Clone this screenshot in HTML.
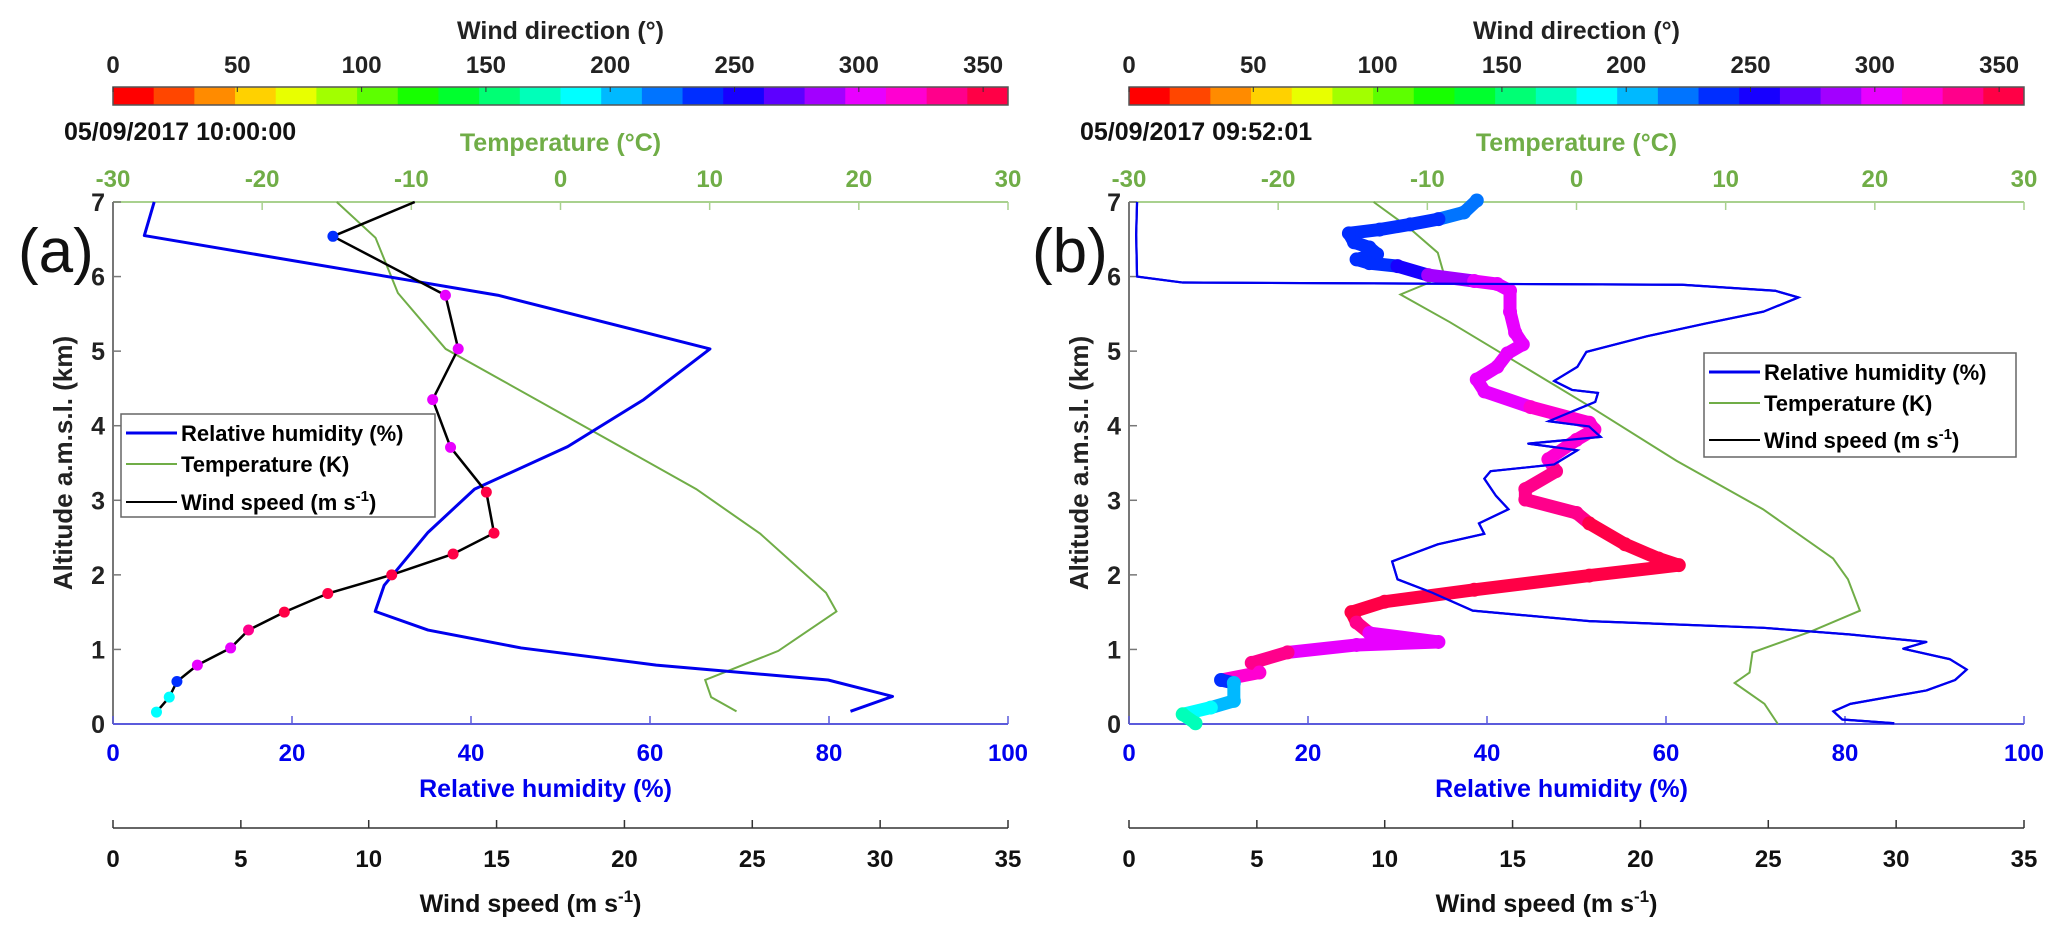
<!DOCTYPE html>
<html><head><meta charset="utf-8"><style>
html,body{margin:0;padding:0;background:#fff;}
svg{display:block;font-family:"Liberation Sans",Arial,sans-serif;font-weight:bold;}
</style></head><body>
<svg id="chart" width="2067" height="938" viewBox="0 0 2067 938" xmlns="http://www.w3.org/2000/svg"></svg>
<script>
// ---------- Data: panel (a) ----------
const rhA = [4.6,3.5,43,66.7,59.3,50.8,40.4,35.2,30.3,29.3,35.2,45.6,60.7,79.9,87.1,82.4];
const rhAltA = [7.0,6.55,5.75,5.03,4.35,3.72,3.15,2.57,1.86,1.51,1.26,1.02,0.79,0.59,0.37,0.17];
const tA = [-15,-12.4,-10.9,-7.7,1.7,9.1,13.4,17.8,18.5,14.6,9.7,10.1,11.8];
const tAltA = [7.0,6.52,5.78,5.03,3.98,3.15,2.55,1.76,1.51,0.98,0.59,0.36,0.17];
const wsA = [11.8,8.6,13.0,13.5,12.5,13.2,14.6,14.9,13.3,10.9,8.4,6.7,5.3,4.6,3.3,2.5,2.2,1.7];
const wsAltA = [7.0,6.54,5.75,5.03,4.35,3.71,3.11,2.56,2.28,2.0,1.75,1.5,1.26,1.02,0.79,0.57,0.36,0.16];
const wdA = [null,240,300,300,300,300,345,345,345,345,345,345,340,310,305,240,195,195];
// ---------- Data: panel (b) ----------
const rhB = [0.9,0.8,0.9,6,61.8,72.2,74.8,70.9,64.4,57.9,52.7,51.1,50.1,47.5,49.5,52.4,52.1,46.9,51.4,52.7,44.6,50.1,47.5,40.4,39.7,41,41.7,42.4,39.1,39.7,34.5,29.4,30,33.9,38.4,51.4,70.9,80.6,89.1,86.5,91.7,93.6,92.3,89.1,80.6,78.7,79.7,85.5];
const rhAltB = [7.0,6.56,6.0,5.92,5.89,5.81,5.72,5.53,5.37,5.2,5.04,4.99,4.79,4.6,4.48,4.44,4.32,4.06,3.99,3.85,3.76,3.67,3.48,3.39,3.29,3.06,2.97,2.88,2.69,2.55,2.41,2.18,1.94,1.76,1.52,1.38,1.29,1.2,1.1,1.01,0.87,0.73,0.59,0.45,0.27,0.17,0.06,0.01];
const tB = [-13.6,-11.2,-9.3,-8.9,-10.1,-11.8,-8.5,-3.1,0.8,6.7,12.5,17.2,18.2,19,15.7,11.8,11.6,10.6,12.6,13.5];
const tAltB = [7.0,6.65,6.32,6.04,5.9,5.76,5.39,4.74,4.27,3.53,2.88,2.22,1.94,1.52,1.24,0.96,0.69,0.55,0.27,0];
const wsB = [13.6,13.1,12.1,11,9.8,8.6,8.8,9.4,9.7,8.9,9.4,10.5,11.7,13.5,14.4,14.9,14.9,15.1,15.4,14.8,14.4,13.6,13.9,15.7,18,18.2,17.5,16.4,16.7,15.5,15.5,17.5,18,19.4,20.7,21.5,18,13.5,10,8.7,8.9,9.4,12.1,8.9,6.2,4.8,5.1,3.6,4.1,4.1,3.2,2.1,2.6];
const wsAltB = [7.02,6.86,6.77,6.7,6.63,6.58,6.46,6.39,6.3,6.23,6.18,6.14,6.02,5.94,5.9,5.81,5.53,5.25,5.09,4.97,4.79,4.62,4.46,4.25,4.04,3.95,3.81,3.55,3.39,3.15,3.01,2.83,2.69,2.41,2.22,2.13,1.99,1.8,1.64,1.5,1.36,1.22,1.1,1.06,0.96,0.82,0.69,0.59,0.55,0.31,0.22,0.13,0.01];
const wdB = [220,225,235,240,240,240,240,240,240,240,240,260,280,300,300,300,300,300,300,305,305,305,310,315,320,320,320,325,330,335,340,340,345,345,350,355,350,350,350,355,340,300,300,300,330,340,320,240,200,200,185,175,170];
// ---------- Tick labels ----------
const dirTicks = [0,50,100,150,200,250,300,350];
const tempTicks = [-30,-20,-10,0,10,20,30];
const rhTicks = [0,20,40,60,80,100];
const wsTicks = [0,5,10,15,20,25,30,35];
const altTicks = [0,1,2,3,4,5,6,7];
const dates = ["05/09/2017 10:00:00","05/09/2017 09:52:01"];
const panelLetters = ["(a)","(b)"];

const NS = "http://www.w3.org/2000/svg";
const svg = document.getElementById("chart");
function mk(tag, attrs, parent, text){
  const e = document.createElementNS(NS, tag);
  for (const k in attrs) e.setAttribute(k, attrs[k]);
  if (text !== undefined) e.textContent = text;
  (parent || svg).appendChild(e);
  return e;
}
const NBIN = 22;
function dirColor(d){
  let b = Math.floor(d/360*NBIN); if (b >= NBIN) b = NBIN-1; if (b < 0) b = 0;
  return "hsl(" + (b*360/NBIN) + ",100%,50%)";
}
const W = 895, TOP = 202, BOT = 724;
const yS = km => BOT - km*(BOT-TOP)/7;
const BLUE = "#0000ee", GREEN = "#70ad47";

function panel(p){
  const x0 = p===0 ? 113 : 1129;
  const xRH = v => x0 + v/100*W;
  const xT = v => x0 + (v+30)/60*W;
  const xWS = v => x0 + v/35*W;
  const xD = v => x0 + v/360*W;
  const g = mk("g", {});
  
  

  const cb = mk("g", {}, g);
  
  
  for (let i=0;i<NBIN;i++){
    mk("rect",{x:xD(i*360/NBIN),y:87,width:W/NBIN+0.5,height:18,fill:"hsl("+(i*360/NBIN)+",100%,50%)"},cb);
  }
  mk("rect",{x:x0,y:87,width:W,height:18,fill:"none",stroke:"#555","stroke-width":1.5},cb);
  dirTicks.forEach(d=>{
    mk("line",{x1:xD(d),x2:xD(d),y1:87,y2:92,stroke:"#333","stroke-width":1},cb);
    const t = mk("text",{x:xD(d),y:73,"text-anchor":"middle","font-size":24,fill:"#222"},cb,String(d));
    
    
  });
  const ct = mk("text",{x:x0+W/2,y:39,"text-anchor":"middle","font-size":25,fill:"#222"},cb,"Wind direction (°)");
  
  

  const dt = mk("text",{x:p===0?64:1080,y:140,"font-size":25,fill:"#111"},g,dates[p]);
  
  

  const pl = mk("text",{x:p===0?18:1032,y:272,"font-size":62,"font-weight":"normal",fill:"#111"},g,panelLetters[p]);
  
  

  const tt = mk("text",{x:x0+W/2,y:151,"text-anchor":"middle","font-size":25,fill:GREEN},g,"Temperature (°C)");
  
  
  mk("line",{x1:x0,x2:x0+W,y1:TOP,y2:TOP,stroke:"#a9d18e","stroke-width":2},g);
  tempTicks.forEach(v=>{
    mk("line",{x1:xT(v),x2:xT(v),y1:TOP,y2:TOP+8,stroke:"#a9d18e","stroke-width":1.5},g);
    const t = mk("text",{x:xT(v),y:187,"text-anchor":"middle","font-size":24,fill:GREEN},g,String(v));
    
    
  });

  mk("line",{x1:x0,x2:x0,y1:TOP,y2:BOT,stroke:"#777","stroke-width":2},g);
  altTicks.forEach(v=>{
    mk("line",{x1:x0,x2:x0+8,y1:yS(v),y2:yS(v),stroke:"#777","stroke-width":1.5},g);
    const t = mk("text",{x:x0-8,y:yS(v)+9,"text-anchor":"end","font-size":25,fill:"#222"},g,String(v));
    
    
  });
  const yt = mk("text",{x:0,y:0,"text-anchor":"middle","font-size":26,fill:"#222",transform:"translate("+(x0-41)+","+((TOP+BOT)/2)+") rotate(-90)"},g,"Altitude a.m.s.l. (km)");
  
  

  mk("line",{x1:x0,x2:x0+W,y1:BOT,y2:BOT,stroke:"#5b5bdc","stroke-width":2},g);
  rhTicks.forEach(v=>{
    mk("line",{x1:xRH(v),x2:xRH(v),y1:BOT,y2:BOT-8,stroke:"#5b5bdc","stroke-width":1.5},g);
    const t = mk("text",{x:xRH(v),y:761,"text-anchor":"middle","font-size":24,fill:BLUE},g,String(v));
    
    
  });
  const rt = mk("text",{x:x0+W/2-15,y:797,"text-anchor":"middle","font-size":25,fill:BLUE},g,"Relative humidity (%)");
  
  

  mk("line",{x1:x0,x2:x0+W,y1:828,y2:828,stroke:"#333","stroke-width":1.5},g);
  wsTicks.forEach(v=>{
    mk("line",{x1:xWS(v),x2:xWS(v),y1:828,y2:820,stroke:"#333","stroke-width":1.5},g);
    const t = mk("text",{x:xWS(v),y:867,"text-anchor":"middle","font-size":24,fill:"#111"},g,String(v));
    
    
  });
  const wt = mk("text",{x:x0+W/2-30,y:912,"text-anchor":"middle","font-size":25,fill:"#111"},g);
  
  
  mk("tspan",{},wt,"Wind speed (m s");
  mk("tspan",{dy:-10,"font-size":17},wt,"-1");
  mk("tspan",{dy:10},wt,")");

  const rh = p===0?rhA:rhB, rhAlt = p===0?rhAltA:rhAltB;
  const tv = p===0?tA:tB, tAlt = p===0?tAltA:tAltB;
  const ws = p===0?wsA:wsB, wsAlt = p===0?wsAltA:wsAltB, wd = p===0?wdA:wdB;

  const tl = mk("polyline",{points:tv.map((v,i)=>xT(v)+","+yS(tAlt[i])).join(" "),fill:"none",stroke:GREEN,"stroke-width":2},g);
  
  

  const rl0 = mk("polyline",{points:rh.map((v,i)=>xRH(v)+","+yS(rhAlt[i])).join(" "),fill:"none",stroke:BLUE,"stroke-width":p===0?3:2.2,"stroke-linejoin":"round"},g);
  
  

  const wg = mk("g",{},g);
  
  
  if (p===0){
    mk("polyline",{points:ws.map((v,i)=>xWS(v)+","+yS(wsAlt[i])).join(" "),fill:"none",stroke:"#000","stroke-width":2.5},wg);
    ws.forEach((v,i)=>{
      if (wd[i]===null) return;
      const c = mk("circle",{cx:xWS(v),cy:yS(wsAlt[i]),r:5.5,fill:dirColor(wd[i])},wg);
      
      
    });
  } else {
    for (let i=0;i<ws.length-1;i++){
      const s = mk("line",{x1:xWS(ws[i]),y1:yS(wsAlt[i]),x2:xWS(ws[i+1]),y2:yS(wsAlt[i+1]),stroke:dirColor(wd[i]),"stroke-width":13,"stroke-linecap":"round"},wg);
      
      
    }
    ws.forEach((v,i)=>{
      const c = mk("circle",{cx:xWS(v),cy:yS(wsAlt[i]),r:7,fill:dirColor(wd[i])},wg);
      
      
    });
    const rl = mk("polyline",{points:rh.map((v,i)=>xRH(v)+","+yS(rhAlt[i])).join(" "),fill:"none",stroke:BLUE,"stroke-width":2.2},g);
    
    
  }

  const L = p===0 ? {x:121,y:414,w:314,h:103,e:[433,464,502]} : {x:1704,y:353,w:312,h:104,e:[372,403,440]};
  const lg = mk("g",{},g);
  
  
  mk("rect",{x:L.x,y:L.y,width:L.w,height:L.h,fill:"#fff",stroke:"#666","stroke-width":1.5},lg);
  const cols=[BLUE,GREEN,"#000"], lw=[3,2,2];
  const labs=["Relative humidity (%)","Temperature (K)"];
  for (let k=0;k<3;k++){
    mk("line",{x1:L.x+5,x2:L.x+56,y1:L.e[k],y2:L.e[k],stroke:cols[k],"stroke-width":lw[k]},lg);
    const t = mk("text",{x:L.x+60,y:L.e[k]+8,"font-size":22,fill:"#000"},lg, k<2?labs[k]:undefined);
    
    
    if (k===2){
      mk("tspan",{},t,"Wind speed (m s");
      mk("tspan",{dy:-9,"font-size":15},t,"-1");
      mk("tspan",{dy:9},t,")");
    }
  }
}
panel(0);
panel(1);
</script>
</body></html>
